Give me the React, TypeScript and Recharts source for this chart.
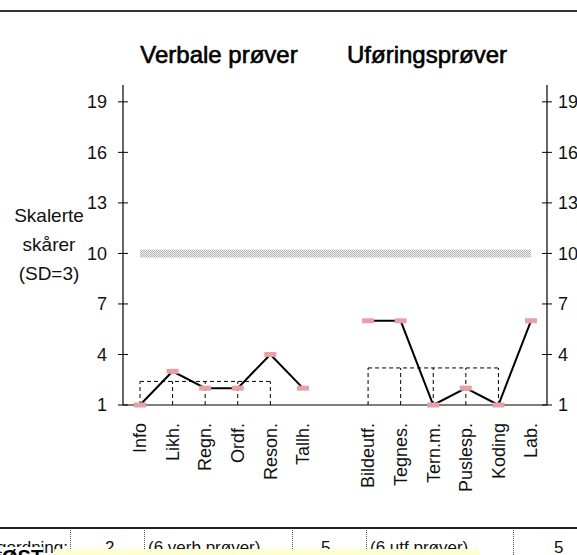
import { ComposedChart, Line, XAxis, YAxis, ReferenceLine } from "recharts";

const categories = [
  "Info", "Likh.", "Regn.", "Ordf.", "Reson.", "Tallh.", "",
  "Bildeutf.", "Tegnes.", "Tern.m.", "Puslesp.", "Koding", "Lab.",
];
const scores = [1, 3, 2, 2, 4, 2, null, 6, 6, 1, 2, 1, 6];
const yTicks = [1, 4, 7, 10, 13, 16, 19];

// dashed "mean" boxes
const verbalBox = ["Info", "Likh.", "Regn.", "Ordf.", "Reson."];
const verbalMean = 2.4;
const perfBox = ["Bildeutf.", "Tegnes.", "Tern.m.", "Puslesp.", "Koding"];
const perfMean = 3.2;
const normLevel = 10;

const data = categories.map((name, i) => ({ name, score: scores[i] }));

const FONT = "'Liberation Sans', Arial, sans-serif";

function LeftTick({ x, y, payload }: any) {
  return (
    <g>
      <line x1={x} x2={x + 10} y1={y} y2={y} stroke="#000" strokeWidth={1} />
      <text x={x - 11} y={y} dy="0.35em" textAnchor="end" fontSize={18} fontFamily={FONT} fill="#111">
        {payload.value}
      </text>
    </g>
  );
}

function RightTick({ x, y, payload }: any) {
  return (
    <g>
      <line x1={x - 10} x2={x} y1={y} y2={y} stroke="#000" strokeWidth={1} />
      <text x={x + 6} y={y} dy="0.35em" textAnchor="start" fontSize={18} fontFamily={FONT} fill="#111">
        {payload.value}
      </text>
    </g>
  );
}

function CatTick({ x, y, payload }: any) {
  if (!payload.value) return null;
  const ty = y + 10;
  return (
    <text
      x={x}
      y={ty}
      dy="0.35em"
      textAnchor="end"
      transform={`rotate(-90, ${x}, ${ty})`}
      fontSize={18}
      fontFamily={FONT}
      fill="#111"
    >
      {payload.value}
    </text>
  );
}

function Marker({ cx, cy, value }: any) {
  if (value == null || cx == null) return null;
  return <rect x={cx - 6} y={cy - 2.5} width={12} height={5} fill="#e8a0a8" />;
}

export default function App() {
  const dash = "4 3";
  const boxLines = (cats: string[], mean: number, key: string) => [
    <ReferenceLine
      key={key + "-top"}
      yAxisId="left"
      segment={[{ x: cats[0], y: mean }, { x: cats[cats.length - 1], y: mean }]}
      stroke="#000"
      strokeDasharray={dash}
      ifOverflow="visible"
    />,
    ...cats.map((c) => (
      <ReferenceLine
        key={key + c}
        yAxisId="left"
        segment={[{ x: c, y: 1 }, { x: c, y: mean }]}
        stroke="#000"
        strokeDasharray={dash}
        ifOverflow="visible"
      />
    )),
  ];

  return (
    <div style={{ position: "relative", width: 577, height: 555, overflow: "hidden", background: "#fff" }}>
      <style>{`body{margin:0}`}</style>
      <div style={{ position: "absolute", left: 0, top: 10, width: 577, height: 2, background: "#333" }} />

      <ComposedChart
        width={577}
        height={520}
        data={data}
        margin={{ top: 85, right: 0, bottom: 15, left: 63 }}
      >
        <defs>
          <pattern id="dots" patternUnits="userSpaceOnUse" width={2} height={2}>
            <rect width={2} height={2} fill="#f2f2f2" />
            <rect width={1} height={1} fill="#b4b4b4" />
            <rect x={1} y={1} width={1} height={1} fill="#b4b4b4" />
          </pattern>
        </defs>
        <XAxis
          dataKey="name"
          type="category"
          interval={0}
          height={100}
          padding={{ left: 17, right: 16 }}
          axisLine={{ stroke: "#000", strokeWidth: 1.2 }}
          tickLine={false}
          tick={<CatTick />}
        />
        <YAxis
          yAxisId="left"
          orientation="left"
          domain={[1, 20]}
          ticks={yTicks}
          width={60}
          tickSize={5}
          tickMargin={0}
          tickLine={false}
          axisLine={{ stroke: "#000", strokeWidth: 1.2 }}
          tick={<LeftTick />}
        />
        <YAxis
          yAxisId="right"
          orientation="right"
          domain={[1, 20]}
          ticks={yTicks}
          width={30}
          tickSize={5}
          tickMargin={0}
          tickLine={false}
          axisLine={{ stroke: "#000", strokeWidth: 1.2 }}
          tick={<RightTick />}
        />
        <ReferenceLine
          yAxisId="left"
          segment={[{ x: categories[0], y: normLevel }, { x: categories[categories.length - 1], y: normLevel }]}
          stroke="url(#dots)"
          strokeWidth={8}
        />
        {boxLines(verbalBox, verbalMean, "v")}
        {boxLines(perfBox, perfMean, "p")}
        {/* invisible series so the right axis gets its ticks */}
        <Line
          yAxisId="right"
          dataKey="score"
          stroke="none"
          dot={false}
          activeDot={false}
          legendType="none"
          isAnimationActive={false}
        />
        <Line
          yAxisId="left"
          dataKey="score"
          type="linear"
          stroke="#000"
          strokeWidth={2}
          connectNulls={false}
          dot={<Marker />}
          activeDot={false}
          isAnimationActive={false}
        />
      </ComposedChart>

      <svg width={577} height={555} style={{ position: "absolute", left: 0, top: 0, pointerEvents: "none" }}>
        <g fontFamily={FONT} fill="#000">
          <text x={219} y={63} textAnchor="middle" fontSize={24} stroke="#000" strokeWidth={0.6}>
            Verbale prøver
          </text>
          <text x={427} y={63} textAnchor="middle" fontSize={24} stroke="#000" strokeWidth={0.6}>
            Uføringsprøver
          </text>
          <g fontSize={19} textAnchor="middle" fill="#111">
            <text x={49} y={222}>Skalerte</text>
            <text x={49} y={251}>skårer</text>
            <text x={49} y={280}>(SD=3)</text>
          </g>
        </g>
      </svg>

      {/* cut-off table row below the chart */}
      <div style={{ position: "absolute", left: 0, top: 527, width: 577, height: 2, background: "#222" }} />
      {[70, 144, 292, 366, 513].map((x) => (
        <div key={x} style={{ position: "absolute", left: x, top: 530, height: 25, borderLeft: "1px dotted #555" }} />
      ))}
      <div style={{ position: "absolute", top: 539, left: 0, width: 577, fontFamily: FONT, fontSize: 17, lineHeight: "17px", color: "#111" }}>
        <span style={{ position: "absolute", right: 577 - 68, whiteSpace: "nowrap" }}>Rangordning:</span>
        <span style={{ position: "absolute", left: 105 }}>2</span>
        <span style={{ position: "absolute", left: 148, whiteSpace: "nowrap" }}>(6 verb.prøver)</span>
        <span style={{ position: "absolute", left: 321 }}>5</span>
        <span style={{ position: "absolute", left: 370, whiteSpace: "nowrap" }}>(6 utf.prøver)</span>
        <span style={{ position: "absolute", left: 554 }}>5</span>
      </div>
      <div style={{ position: "absolute", left: 55, top: 549, width: 425, height: 10, background: "#ffffd2" }} />
      <div style={{ position: "absolute", left: 2, top: 547, fontFamily: FONT, fontSize: 20, fontWeight: "bold", color: "#000", lineHeight: "20px", background: "#fff" }}>
        ØST
      </div>
    </div>
  );
}
